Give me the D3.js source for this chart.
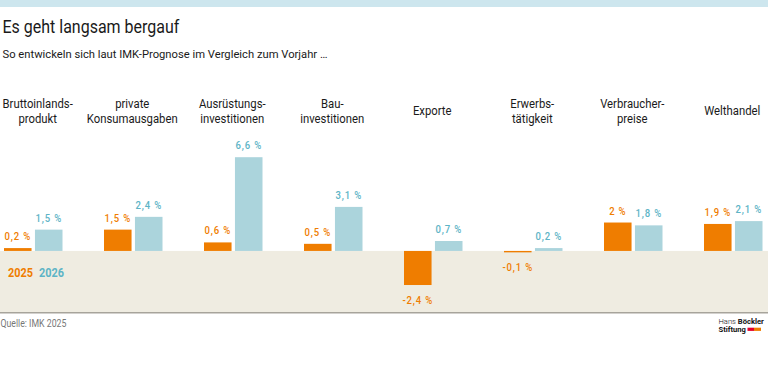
<!DOCTYPE html>
<html><head><meta charset="utf-8">
<script src="https://cdn.jsdelivr.net/npm/d3@7"></script>
<style>
html,body{margin:0;padding:0;background:#fff;}
svg{display:block;}
</style></head>
<body>
<svg id="c" width="768" height="381"></svg>
<script>
const categories = [
  ["Bruttoinlands-","produkt"],
  ["private","Konsumausgaben"],
  ["Ausrüstungs-","investitionen"],
  ["Bau-","investitionen"],
  ["Exporte"],
  ["Erwerbs-","tätigkeit"],
  ["Verbraucher-","preise"],
  ["Welthandel"]
];
const series = ["2025","2026"];
const values2025 = [0.2, 1.5, 0.6, 0.5, -2.4, -0.1, 2, 1.9];
const values2026 = [1.5, 2.4, 6.6, 3.1, 0.7, 0.2, 1.8, 2.1];

const W = 768, H = 381;
const FONT = "Roboto, 'Liberation Sans', sans-serif";
const orange = "#ef7d00", blue = "#abd4dc", blueText = "#5db4c6", beige = "#efece1";
const svg = d3.select("#c");

function measure(str, size, weight, ls){
  const t = svg.append("text").attr("font-family",FONT).attr("font-size",size)
    .attr("font-weight",weight||"normal").attr("letter-spacing",ls||0).text(str);
  const w = t.node().getComputedTextLength();
  t.remove();
  return w;
}
function ctext(parent, x, y, str, size, opts){
  opts = opts||{};
  const g = parent.append("g").attr("transform",`translate(${x},${y}) scale(${opts.sx||1},1)`);
  const t = g.append("text").attr("x",0).attr("y",0).attr("font-family",FONT).attr("font-size",size)
    .attr("font-weight",opts.weight||"normal").attr("fill",opts.fill||"#1a1a1a")
    .attr("text-anchor",opts.anchor||"start");
  if(opts.ls) t.attr("letter-spacing",opts.ls);
  t.text(str);
  return t;
}

// top band
svg.append("rect").attr("x",0).attr("y",0).attr("width",W).attr("height",7).attr("fill","#cde6ee");

// title / subtitle
const titleStr = "Es geht langsam bergauf";
const subStr = "So entwickeln sich laut IMK-Prognose im Vergleich zum Vorjahr …";
ctext(svg, 2.5, 33, titleStr, 17.5, {sx: 177/measure(titleStr,17.5)});
ctext(svg, 2.5, 58, subStr, 11.5, {sx: 325/measure(subStr,11.5)});

const keys = categories.map((d,i)=>i);
const x0 = d3.scaleBand().domain(keys).range([4, 804]).paddingInner(0).paddingOuter(0);
const x1 = d3.scaleBand().domain(series).range([0, 58.5]).paddingInner(0.11).paddingOuter(0);
const y = d3.scaleLinear().domain([-4.3, 6.6]).range([312, 157.2]);

// beige area below zero
svg.append("rect").attr("x",0).attr("y",y(0)).attr("width",W).attr("height",y(-4.3)-y(0)).attr("fill",beige);
svg.append("rect").attr("x",0).attr("y",312).attr("width",W).attr("height",1.5).attr("fill","#a7a49b");

const data = keys.map(i=>({i, vals:[{s:"2025",v:values2025[i]},{s:"2026",v:values2026[i]}]}));
const fmt = v => String(v).replace(".", ",") + " %";

const g = svg.selectAll("g.grp").data(data).join("g").attr("class","grp")
  .attr("transform", d=>`translate(${x0(d.i)},0)`);

g.selectAll("rect").data(d=>d.vals).join("rect")
  .attr("x", d=>x1(d.s)).attr("width", x1.bandwidth())
  .attr("y", d=>y(Math.max(0,d.v))).attr("height", d=>Math.abs(y(d.v)-y(0)))
  .attr("fill", d=>d.s==="2025"?orange:blue);

const valSx = 26.5/measure("6,6 %", 11.5, "500", "1px");
g.each(function(d){
  const sel = d3.select(this);
  d.vals.forEach(v=>{
    ctext(sel, x1(v.s)+x1.bandwidth()/2, v.v>=0 ? y(v.v)-8 : y(v.v)+19, fmt(v.v), 11.5,
      {sx: valSx, anchor:"middle", weight:"500", ls:"1px", fill: v.s==="2025"?orange:blueText});
  });
});

// category labels
const catSx = 91/measure("Konsumausgaben", 12.5);
g.each(function(d){
  const lines = categories[d.i];
  const gx = x0(d.i);
  let cx = x1.range()[1]/2 - 1;
  const maxW = d3.max(lines, l=>measure(l,12.5))*catSx;
  if (gx + cx - maxW/2 < 2.5) cx = 2.5 - gx + maxW/2;
  const gg = d3.select(this).append("g").attr("transform",`translate(${cx},0) scale(${catSx},1)`);
  const t = gg.append("text").attr("text-anchor","middle")
    .attr("font-family",FONT).attr("font-size",12.5).attr("fill","#1a1a1a");
  const base = lines.length===1 ? 115 : 108;
  lines.forEach((l,k)=>t.append("tspan").attr("x",0).attr("y",base+k*15.3).text(l));
});

// legend
const legSx = 25/measure("2025", 13.5, "bold");
ctext(svg, x0(0)+x1("2025")+4, 277, "2025", 13.5, {sx:legSx, weight:"bold", fill:orange});
ctext(svg, x0(0)+x1("2026")+4, 277, "2026", 13.5, {sx:legSx, weight:"bold", fill:blueText});

// source
const srcStr = "Quelle: IMK 2025";
ctext(svg, 0.5, 327, srcStr, 10, {sx: 66/measure(srcStr,10), fill:"#777"});

// logo
const lg = svg.append("g");
const lsx = 43.5/(measure("Hans ",7,"300")+measure("Böckler",7,"bold"));
const gt = lg.append("g").attr("transform",`translate(718.5,324) scale(${lsx},1)`);
const t1 = gt.append("text").attr("font-family",FONT).attr("font-size",7).attr("fill","#111");
t1.append("tspan").attr("font-weight","300").text("Hans ");
t1.append("tspan").attr("font-weight","bold").text("Böckler");
const gt2 = lg.append("g").attr("transform",`translate(718.5,332) scale(${lsx},1)`);
gt2.append("text").attr("font-family",FONT).attr("font-size",7).attr("font-weight","bold").attr("fill","#111").text("Stiftung");
lg.append("rect").attr("x",747.5).attr("y",327.7).attr("width",6.5).attr("height",3.2).attr("fill","#e4002b");
lg.append("rect").attr("x",754).attr("y",327.7).attr("width",7).attr("height",3.2).attr("fill",orange);
</script>
</body></html>
